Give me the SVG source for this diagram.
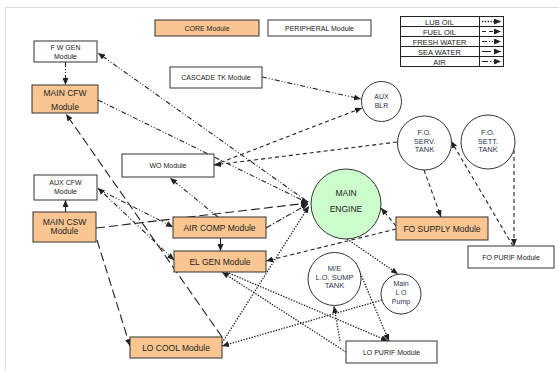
<svg xmlns="http://www.w3.org/2000/svg" width="559" height="371" viewBox="0 0 559 371">
<defs>
<marker id="ah" markerUnits="userSpaceOnUse" markerWidth="7" markerHeight="6" refX="7" refY="3" orient="auto">
<path d="M0,0 L7,3 L0,6 z" fill="#222"/>
</marker>
<marker id="ahs" markerUnits="userSpaceOnUse" markerWidth="7" markerHeight="6" refX="7" refY="3" orient="auto-start-reverse">
<path d="M0,0 L7,3 L0,6 z" fill="#222"/>
</marker>
<style>
.box{stroke:#333;stroke-width:1;fill:#fff}
.core{fill:#f9c691}
.circ{stroke:#333;stroke-width:1;fill:#fff}
.eng{fill:#ccfccc}
text{font-family:"Liberation Sans",Arial,sans-serif;fill:#222;text-anchor:middle}
.s7{font-size:7px}
.s75{font-size:7.5px}
.s85{font-size:8.5px}
.ct{fill:#2a3550}
.c line, .c path{stroke:#222;stroke-width:1.1;fill:none;marker-end:url(#ah)}
.c .both{marker-start:url(#ahs)}
.c .lub{stroke-dasharray:1.4 1.4;stroke-width:1.3}
.c .fuel{stroke-dasharray:4 3}
.c .fw{stroke-dasharray:5 2 1 2 1 2}
.c .sea{stroke-dasharray:9 4}
.c .air{stroke-dasharray:6 2 1.5 2}
</style>
</defs>
<rect x="5.5" y="7.5" width="560" height="370" fill="#fff" stroke="#ddd"/>

<g id="legend-core"><rect class="box core" x="155" y="20" width="104" height="16"/><text class="s7" x="207" y="31">CORE Module</text></g>
<g id="legend-peripheral"><rect class="box" x="268" y="20" width="103" height="16"/><text class="s7" x="319.5" y="30.5">PERIPHERAL Module</text></g>

<g id="legend">
<rect x="400.5" y="16.5" width="103" height="50" fill="#fff" stroke="#222"/>
<line x1="400.5" y1="26.5" x2="503.5" y2="26.5" stroke="#222"/>
<line x1="400.5" y1="36.5" x2="503.5" y2="36.5" stroke="#222"/>
<line x1="400.5" y1="46.5" x2="503.5" y2="46.5" stroke="#222"/>
<line x1="400.5" y1="56.5" x2="503.5" y2="56.5" stroke="#222"/>
<line x1="479.5" y1="16.5" x2="479.5" y2="66.5" stroke="#222"/>
<text class="s75" x="439.5" y="24.5">LUB OIL</text>
<text class="s75" x="439.5" y="34.5">FUEL OIL</text>
<text class="s75" x="439.5" y="44.5">FRESH WATER</text>
<text class="s75" x="439.5" y="54.5">SEA WATER</text>
<text class="s75" x="439.5" y="64.5">AIR</text>
<g class="c">
<line class="lub" x1="482" y1="21.5" x2="501" y2="21.5"/>
<line class="fuel" x1="482" y1="31.5" x2="501" y2="31.5"/>
<line class="fw" x1="482" y1="41.5" x2="501" y2="41.5"/>
<line class="sea" x1="482" y1="51.5" x2="501" y2="51.5"/>
<line class="air" x1="482" y1="61.5" x2="501" y2="61.5"/>
</g>
</g>

<g id="connectors" class="c">
<line class="fw" x1="65.5" y1="62" x2="65.5" y2="85"/>
<line class="fw" x1="308" y1="202" x2="98" y2="53"/>
<line class="fw" x1="98" y1="100" x2="308" y2="203"/>
<line class="fw" x1="262" y1="77" x2="361" y2="99"/>
<line class="fw" x1="98" y1="189" x2="173" y2="227"/>
<line class="fw both" x1="174" y1="260" x2="98" y2="188"/>
<line class="fw" x1="218" y1="217" x2="170" y2="178"/>
<line class="air" x1="266" y1="228" x2="308" y2="204"/>
<line class="sea" x1="222" y1="337" x2="66" y2="114"/>
<line class="sea" x1="96" y1="228" x2="308" y2="203"/>
<line class="sea" x1="97" y1="240" x2="130" y2="346"/>
<line x1="65.5" y1="212" x2="65.5" y2="200"/>
<line x1="220.5" y1="238" x2="220.5" y2="251"/>
<line class="fuel" x1="214" y1="165" x2="362" y2="108"/>
<line class="fuel" x1="397" y1="142" x2="214" y2="165"/>
<line class="fuel" x1="424" y1="170" x2="441" y2="217"/>
<line class="fuel" x1="513" y1="246" x2="451" y2="141"/>
<line class="fuel" x1="514" y1="150" x2="514" y2="246"/>
<line class="fuel" x1="396" y1="226" x2="381" y2="208"/>
<line class="fuel" x1="396" y1="229" x2="266" y2="261"/>
<line class="lub" x1="347" y1="239" x2="398" y2="274"/>
<line class="lub" x1="382" y1="300" x2="222" y2="346"/>
<line class="lub" x1="222" y1="343" x2="309" y2="206"/>
<line class="lub" x1="356" y1="263" x2="389" y2="341"/>
<line class="lub" x1="340" y1="341" x2="334" y2="306"/>
<line class="lub" x1="346" y1="352" x2="222" y2="272"/>
<line class="lub" x1="224" y1="271" x2="388" y2="341"/>
</g>

<g id="fw-gen"><rect class="box" x="34" y="41" width="63" height="21"/><text class="s7" x="65.5" y="49.5">F W GEN</text><text class="s7" x="65.5" y="59">Module</text></g>
<g id="main-cfw"><rect class="box core" x="32" y="85" width="66" height="28"/><text class="s85" x="65" y="96">MAIN CFW</text><text class="s85" x="65" y="110">Module</text></g>
<g id="cascade-tk"><rect class="box" x="170" y="67" width="92" height="21"/><text class="s7" x="216" y="80">CASCADE TK Module</text></g>
<g id="aux-blr"><circle class="circ" cx="381.5" cy="101.5" r="20"/><text class="s7 ct" x="381.5" y="99">AUX</text><text class="s7 ct" x="381.5" y="108">BLR</text></g>
<g id="fo-serv-tank"><circle class="circ" cx="424.5" cy="143" r="27"/><text class="s75 ct" x="424.5" y="135">F.O.</text><text class="s75 ct" x="424.5" y="143.5">SERV.</text><text class="s75 ct" x="424.5" y="152">TANK</text></g>
<g id="fo-sett-tank"><circle class="circ" cx="488" cy="142" r="27"/><text class="s75 ct" x="488" y="135">F.O.</text><text class="s75 ct" x="488" y="143.5">SETT.</text><text class="s75 ct" x="488" y="152">TANK</text></g>
<g id="wo"><rect class="box" x="122" y="154" width="92" height="23"/><text class="s7" x="168" y="168">WO Module</text></g>
<g id="aux-cfw"><rect class="box" x="34" y="175" width="63" height="25"/><text class="s7" x="65.5" y="184.5">AUX CFW</text><text class="s7" x="65.5" y="193.5">Module</text></g>
<g id="main-csw"><rect class="box core" x="33" y="212" width="63" height="30"/><text class="s85" x="64.5" y="224.5">MAIN CSW</text><text class="s85" x="64.5" y="234">Module</text></g>
<g id="air-comp"><rect class="box core" x="173" y="217" width="93" height="21"/><text class="s85" x="219.5" y="231">AIR COMP Module</text></g>
<g id="main-engine"><circle class="circ eng" cx="346" cy="204" r="35"/><text class="s85" x="346" y="196">MAIN</text><text class="s85" x="346" y="212">ENGINE</text></g>
<g id="fo-supply"><rect class="box core" x="396" y="217" width="92" height="23"/><text class="s85" x="442" y="232">FO SUPPLY Module</text></g>
<g id="fo-purif"><rect class="box" x="468" y="246" width="86" height="22"/><text class="s7" x="511" y="260">FO PURIF Module</text></g>
<g id="el-gen"><rect class="box core" x="174" y="251" width="92" height="21"/><text class="s85" x="220" y="265">EL GEN Module</text></g>
<g id="lo-cool"><rect class="box core" x="130" y="337" width="92" height="21"/><text class="s85" x="176" y="351">LO COOL Module</text></g>
<g id="me-lo-sump"><circle class="circ" cx="334.5" cy="279" r="26.5"/><text class="s75 ct" x="334.5" y="270.5">M/E</text><text class="s75 ct" x="334.5" y="279.5">L.O. SUMP</text><text class="s75 ct" x="334.5" y="288">TANK</text></g>
<g id="main-lo-pump"><circle class="circ" cx="401" cy="294" r="20"/><text class="s7 ct" x="401" y="285.5">Main</text><text class="s7 ct" x="401" y="294.5">L O</text><text class="s7 ct" x="401" y="303.5">Pump</text></g>
<g id="lo-purif"><rect class="box" x="346" y="341" width="91" height="22"/><text class="s7" x="391.5" y="355">LO PURIF Module</text></g>
</svg>
